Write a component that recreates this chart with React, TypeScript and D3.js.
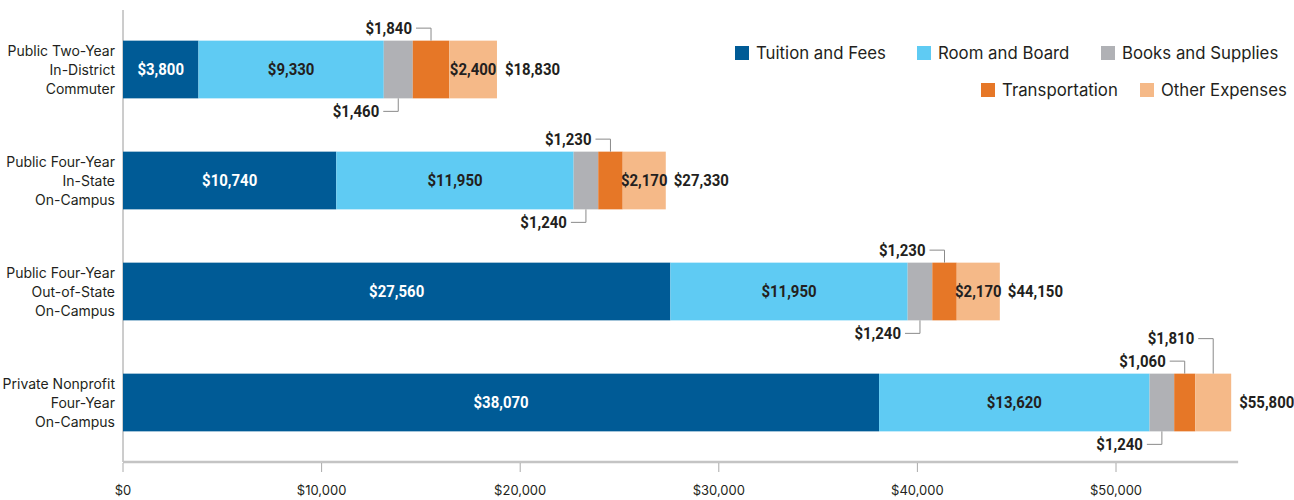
import React from "react";
import * as d3 from "d3";

const categories: string[][] = [
  ["Public Two-Year", "In-District", "Commuter"],
  ["Public Four-Year", "In-State", "On-Campus"],
  ["Public Four-Year", "Out-of-State", "On-Campus"],
  ["Private Nonprofit", "Four-Year", "On-Campus"],
];
const seriesNames = ["Tuition and Fees", "Room and Board", "Books and Supplies", "Transportation", "Other Expenses"];
const seriesColors = ["#005b96", "#5fcbf3", "#b0b1b5", "#e67727", "#f5b988"];
const tuition = [3800, 10740, 27560, 38070];
const roomBoard = [9330, 11950, 11950, 13620];
const books = [1460, 1240, 1240, 1240];
const transportation = [1840, 1230, 1230, 1060];
const other = [2400, 2170, 2170, 1810];
const totals = [18830, 27330, 44150, 55800];
const tickValues = [0, 10000, 20000, 30000, 40000, 50000];

const W = 1294, H = 500;
const BOLD = "Roboto, 'Liberation Sans', sans-serif";
const SANS = "Inter, Roboto, 'Liberation Sans', sans-serif";
const DARK = "#231f20";
const LEADER = "#8a8a8a";
const VAL_SIZE = 17;
const SX = 0.88;

const fmt = (v: number) => "$" + d3.format(",")(v);

function Val(props: { x: number; y: number; anchor?: string; fill?: string; children: React.ReactNode }) {
  return (
    <g transform={`translate(${props.x},${props.y}) scale(${SX},1)`}>
      <text x={0} y={0} textAnchor={props.anchor || "start"} dominantBaseline="central" fontFamily={BOLD} fontWeight="bold" fontSize={VAL_SIZE} fill={props.fill || DARK}>
        {props.children}
      </text>
    </g>
  );
}

export default function App() {
  const x = d3.scaleLinear().domain([0, 50000]).range([123, 1116]);
  const y = d3.scaleBand<number>().domain(d3.range(categories.length)).range([14, 458]).paddingInner(0.48).paddingOuter(0.24);
  const bw = y.bandwidth();
  const seriesData = [tuition, roomBoard, books, transportation, other];
  const stack = categories.map((_, i) => {
    let acc = 0;
    return seriesData.map((s, k) => {
      const start = acc;
      acc += s[i];
      return { k, start, end: acc, value: s[i] };
    });
  });
  const axisEnd = x(56150);

  const legendRow1 = [{ i: 0, x: 735 }, { i: 1, x: 917 }, { i: 2, x: 1101 }];
  const legendRow2 = [{ i: 3, x: 981 }, { i: 4, x: 1140 }];

  return (
    <svg width={W} height={H} style={{ position: "absolute", left: 0, top: 0 }} fontFamily={SANS}>
      <rect width={W} height={H} fill="#fff" />
      {/* axes */}
      <line x1={x(0)} x2={x(0)} y1={10} y2={462} stroke="#9a9a9a" strokeWidth={1} />
      <line x1={x(0)} x2={axisEnd} y1={462} y2={462} stroke="#c4c4c4" strokeWidth={2.5} />
      {tickValues.map((t) => (
        <g key={t}>
          <line x1={x(t)} x2={x(t)} y1={463} y2={472} stroke="#aaa" strokeWidth={1} />
          <text x={x(t)} y={490} textAnchor="middle" dominantBaseline="central" fontSize={13} fill={DARK}>
            {fmt(t)}
          </text>
        </g>
      ))}
      {/* category labels */}
      {categories.map((lines, i) => {
        const cy = (y(i) as number) + bw / 2;
        return (
          <text key={i} textAnchor="end" fontSize={14} fill={DARK}>
            {lines.map((l, j) => (
              <tspan key={j} x={115} y={cy + (j - 1) * 19} dominantBaseline="central">{l}</tspan>
            ))}
          </text>
        );
      })}
      {/* bars */}
      {stack.map((segs, i) => {
        const top = y(i) as number;
        const cy = top + bw / 2;
        return (
          <g key={i}>
            {segs.map((s) => (
              <rect key={s.k} x={x(s.start)} y={top} width={x(s.end) - x(s.start)} height={bw} fill={seriesColors[s.k]} />
            ))}
            {segs.map((s) => {
              const x0 = x(s.start), x1 = x(s.end);
              const cx = (x0 + x1) / 2;
              const inside = s.k < 2 || (s.k === 4 && x1 - x0 >= 40);
              if (inside) {
                return (
                  <Val key={"l" + s.k} x={cx} y={cy} anchor="middle" fill={s.k === 0 ? "#fff" : DARK}>
                    {fmt(s.value)}
                  </Val>
                );
              }
              const below = s.k === 2;
              const ly = below ? top + bw + 13 : s.k === 3 ? top - 12.5 : top - 35;
              const tr = cx - 19;
              return (
                <g key={"l" + s.k}>
                  <polyline points={`${tr + 4},${ly} ${cx},${ly} ${cx},${below ? top + bw : top}`} fill="none" stroke={LEADER} strokeWidth={1} />
                  <Val x={tr} y={ly} anchor="end">{fmt(s.value)}</Val>
                </g>
              );
            })}
            <Val x={x(totals[i]) + 8} y={cy}>{fmt(totals[i])}</Val>
          </g>
        );
      })}
      {/* legend */}
      {[legendRow1, legendRow2].map((row, r) =>
        row.map((it) => (
          <g key={it.i} transform={`translate(${it.x},${r === 0 ? 53 : 90})`}>
            <rect x={0} y={-7} width={14} height={14} fill={seriesColors[it.i]} />
            <text x={21} y={0} dominantBaseline="central" fontSize={16.8} fill={DARK}>{seriesNames[it.i]}</text>
          </g>
        ))
      )}
    </svg>
  );
}
